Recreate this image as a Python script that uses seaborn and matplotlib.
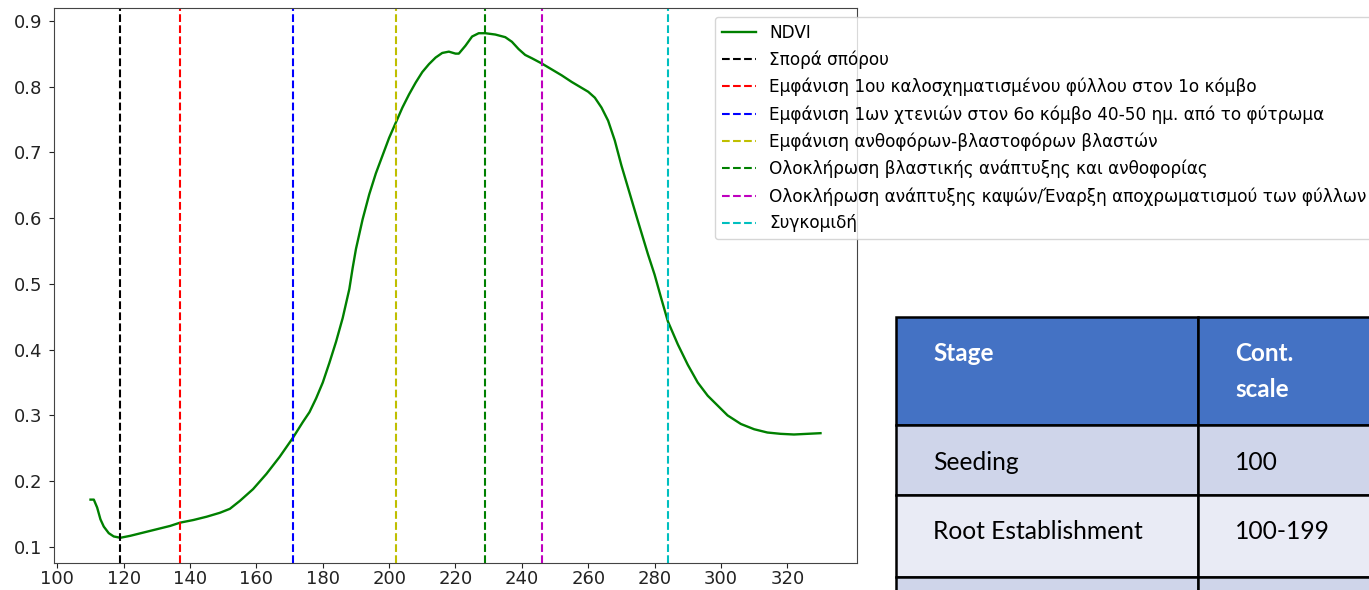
import matplotlib
matplotlib.use("Agg")
import matplotlib.pyplot as plt
import seaborn as sns
import pandas as pd
from matplotlib.patches import Rectangle

# NDVI curve (day of year, NDVI)
days = [110, 111, 112, 113, 114, 115.5, 117, 119, 122, 126, 130, 134, 137, 141,
        145, 149, 152, 155, 159, 163, 167, 171, 174, 176, 178, 180, 182, 184,
        186, 188, 189, 190, 192, 194, 196, 198, 200, 202, 204, 206, 208, 210,
        212, 214, 216, 218, 220, 221, 223, 225, 227, 229, 232, 235, 237, 239,
        241, 243, 246, 249, 252, 255, 258, 260, 262, 264, 266, 268, 270, 272,
        275, 278, 280, 282, 284, 287, 290, 293, 296, 299, 302, 306, 310, 314,
        318, 322, 326, 330]
ndvi = [0.172, 0.172, 0.160, 0.142, 0.131, 0.121, 0.116, 0.114, 0.117, 0.122,
        0.127, 0.132, 0.137, 0.141, 0.146, 0.152, 0.158, 0.170, 0.188, 0.211,
        0.237, 0.266, 0.290, 0.305, 0.326, 0.350, 0.380, 0.412, 0.448, 0.492,
        0.524, 0.553, 0.598, 0.636, 0.668, 0.695, 0.722, 0.745, 0.768, 0.788,
        0.806, 0.822, 0.834, 0.844, 0.851, 0.853, 0.850, 0.850, 0.862, 0.876,
        0.881, 0.881, 0.879, 0.875, 0.868, 0.857, 0.848, 0.843, 0.835, 0.826,
        0.817, 0.807, 0.798, 0.792, 0.783, 0.768, 0.748, 0.718, 0.680, 0.646,
        0.595, 0.545, 0.514, 0.478, 0.443, 0.408, 0.377, 0.350, 0.330, 0.315,
        0.300, 0.287, 0.279, 0.274, 0.272, 0.271, 0.272, 0.273]

# growth stages (vertical dashed lines)
stage_days = [119, 137, 171, 202, 229, 246, 284]
stage_names = [
    'Σπορά σπόρου',
    'Εμφάνιση 1ου καλοσχηματισμένου φύλλου στον 1ο κόμβο',
    'Εμφάνιση 1ων χτενιών στον 6ο κόμβο 40-50 ημ. από το φύτρωμα',
    'Εμφάνιση ανθοφόρων-βλαστοφόρων βλαστών',
    'Ολοκλήρωση βλαστικής ανάπτυξης και ανθοφορίας',
    'Ολοκλήρωση ανάπτυξης καψών/Έναρξη αποχρωματισμού των φύλλων',
    'Συγκομιδή',
]
stage_colors = ['k', 'r', 'b', 'y', 'g', 'm', 'c']

# table beside the chart
table_header = ['Stage', 'Cont.\nscale']
table_stage = ['Seeding', 'Root Establishment', '']
table_scale = ['100', '100-199', '']

df = pd.DataFrame({'day': days, 'NDVI': ndvi})

fig = plt.figure(figsize=(13.69, 5.9), dpi=100)
ax = fig.add_axes([54 / 1369, 1 - 563 / 590, (857 - 54) / 1369, (563 - 8) / 590])

sns.lineplot(data=df, x='day', y='NDVI', color='green', linewidth=1.7,
             label='NDVI', ax=ax)
for d, name, c in zip(stage_days, stage_names, stage_colors):
    ax.axvline(d, color=c, linestyle='--', linewidth=1.5, label=name)

ax.set_xlabel('')
ax.set_ylabel('')
ax.set_xticks(range(100, 340, 20))
ax.tick_params(axis='y', labelsize=13, colors='#222222', pad=5)
ax.tick_params(axis='x', labelsize=13, colors='#222222', pad=1.5)
for s in ax.spines.values():
    s.set_color('#444444')

ax.legend(loc='upper left', bbox_to_anchor=(715 / 1369, 1 - 17 / 590),
          bbox_transform=fig.transFigure, fontsize=12.2, labelspacing=0.52,
          borderaxespad=0)

# table drawn in pixel coordinates on an overlay
tab = fig.add_axes([0, 0, 1, 1])
tab.set_xlim(0, 1369)
tab.set_ylim(590, 0)
tab.axis('off')

col_x = [896, 1198, 1500]
row_y = [317, 425, 495, 577, 660]
row_fill = ['#4472C4', '#CFD5EA', '#E9EBF5', '#CFD5EA']
for r in range(4):
    for c in range(2):
        tab.add_patch(Rectangle((col_x[c], row_y[r]), col_x[c + 1] - col_x[c],
                                row_y[r + 1] - row_y[r], facecolor=row_fill[r],
                                edgecolor='black', linewidth=1.8))

tfont = 'Lato'
for c, txt in enumerate(table_header):
    tab.text(col_x[c] + 37, 361, txt.split('\n')[0], color='white',
             fontweight='bold', fontsize=17.5, family=tfont, va='baseline')
    if '\n' in txt:
        tab.text(col_x[c] + 37, 397, txt.split('\n')[1], color='white',
                 fontweight='bold', fontsize=17.5, family=tfont, va='baseline')
baselines = [470, 539, 620]
for r in range(3):
    tab.text(col_x[0] + 37, baselines[r], table_stage[r], color='black',
             fontsize=17.7, family=tfont, va='baseline')
    tab.text(col_x[1] + 37, baselines[r], table_scale[r], color='black',
             fontsize=17.7, family=tfont, va='baseline')

fig.savefig('out.png', dpi=100)
